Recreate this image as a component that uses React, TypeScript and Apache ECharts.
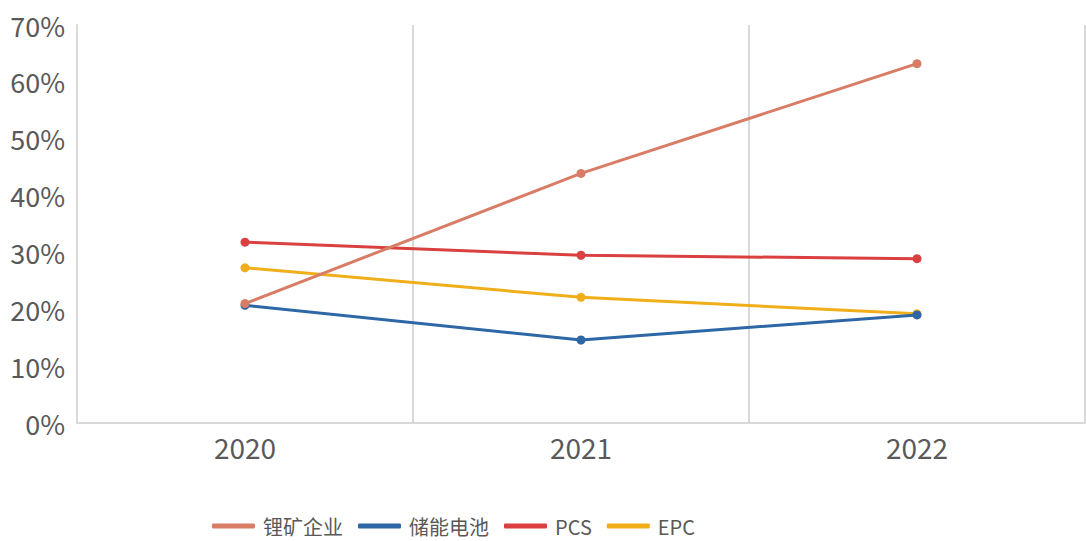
import React, { useEffect, useRef } from "react";
import * as echarts from "echarts";

const categories = ["2020", "2021", "2022"];
const seriesNames = ["锂矿企业", "储能电池", "PCS", "EPC"];
const lithium = [21.0, 43.9, 63.2];
const battery = [20.7, 14.6, 19.0];
const pcs = [31.8, 29.5, 28.9];
const epc = [27.3, 22.1, 19.2];
const yTicks = { min: 0, max: 70, interval: 10 };
const colors = ["#D87C66", "#2E67A6", "#D9403F", "#F0AE1A"];

export default function App() {
  const ref = useRef<HTMLDivElement>(null);
  useEffect(() => {
    if (!ref.current) return;
    const chart = echarts.init(ref.current, undefined, { renderer: "svg" });
    const font = "'Noto Sans CJK SC', 'Noto Sans', sans-serif";
    const values = [lithium, battery, pcs, epc];
    chart.setOption({
      animation: false,
      backgroundColor: "#ffffff",
      grid: { left: 77, right: 1, top: 25, bottom: 118, containLabel: false },
      legend: {
        data: seriesNames,
        top: 514,
        left: 212,
        padding: 0,
        icon: "roundRect",
        itemWidth: 43,
        itemHeight: 5,
        itemGap: 15,
        textStyle: { fontFamily: font, fontSize: 20, lineHeight: 24, color: "#595959", padding: [0, 0, 0, 3] },
      },
      xAxis: {
        type: "category",
        data: categories,
        boundaryGap: true,
        axisLine: { show: true, lineStyle: { color: "#d9d9d9", width: 2 } },
        axisTick: { show: false },
        splitLine: { show: true, lineStyle: { color: "#d9d9d9", width: 2 } },
        axisLabel: { fontFamily: font, fontSize: 28, color: "#595959", margin: 10 },
      },
      yAxis: {
        type: "value",
        min: yTicks.min,
        max: yTicks.max,
        interval: yTicks.interval,
        axisLine: { show: true, lineStyle: { color: "#d9d9d9", width: 2 } },
        axisTick: { show: false },
        splitLine: { show: false },
        axisLabel: { fontFamily: font, fontSize: 27, color: "#595959", margin: 12, formatter: "{value}%" },
      },
      series: seriesNames.map((name, i) => ({
        name,
        type: "line",
        data: values[i],
        symbol: "circle",
        symbolSize: 9,
        showSymbol: true,
        lineStyle: { color: colors[i], width: 3 },
        itemStyle: { color: colors[i] },
        z: [4, 3, 2, 1][i],
      })),
    });
    return () => chart.dispose();
  }, []);
  return (
    <div
      ref={ref}
      style={{ position: "fixed", left: 0, top: 0, width: 1086, height: 541, background: "#fff" }}
    />
  );
}
